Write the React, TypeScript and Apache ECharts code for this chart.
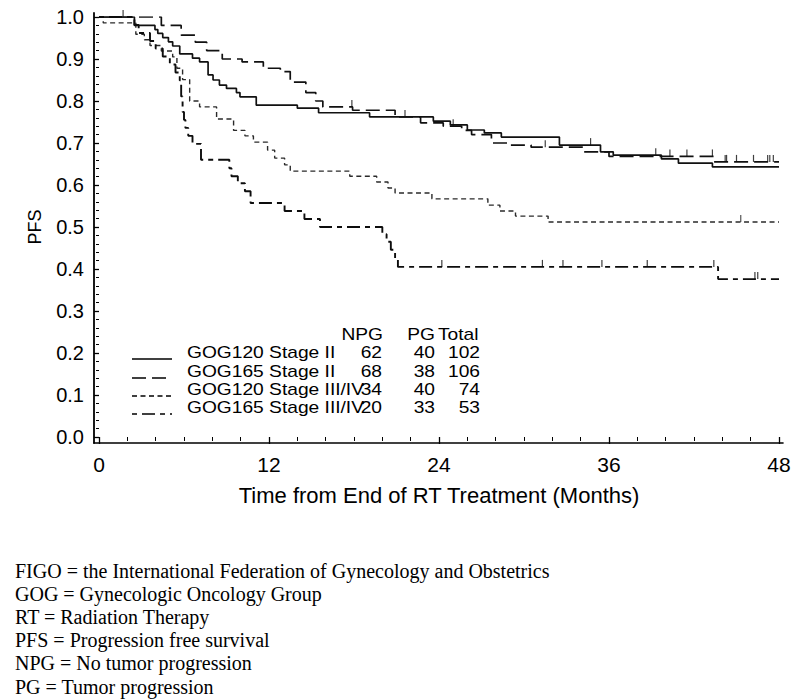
import React, { useEffect, useRef } from 'react';
import * as echarts from 'echarts';

// ---------- data ----------
const seriesNames = ['GOG120 Stage II', 'GOG165 Stage II', 'GOG120 Stage III/IV', 'GOG165 Stage III/IV'];
const npgCounts = [62, 68, 34, 20];
const pgCounts = [40, 38, 40, 33];
const totalCounts = [102, 106, 74, 53];
const xTicks = [0, 12, 24, 36, 48];

// step points: [month, PFS after event]
const gog120StageII: [number, number][] = [
  [0, 1.0], [2.5, 0.98], [3.95, 0.97], [4.15, 0.961], [4.5, 0.951], [4.9, 0.941], [5.2, 0.931],
  [5.7, 0.912], [6.6, 0.902], [7.1, 0.893], [7.7, 0.862], [8.05, 0.85], [8.5, 0.838], [9.0, 0.83],
  [9.7, 0.82], [9.95, 0.81], [11.1, 0.79], [14.0, 0.783], [15.5, 0.772], [19.1, 0.762], [23.6, 0.752],
  [24.8, 0.743], [26.0, 0.731], [27.2, 0.724], [28.4, 0.714], [32.5, 0.695], [35.4, 0.679],
  [36.3, 0.671], [39.7, 0.662], [40.9, 0.652], [43.3, 0.643], [48, 0.643],
];
const gog165StageII: [number, number][] = [
  [0, 1.0], [4.4, 0.98], [5.8, 0.957], [6.8, 0.94], [7.6, 0.92], [8.7, 0.9], [10.1, 0.893],
  [11.6, 0.878], [12.8, 0.87], [13.5, 0.845], [14.6, 0.82], [15.3, 0.8], [15.8, 0.786], [17.9, 0.778],
  [20.9, 0.762], [22.7, 0.748], [24.3, 0.74], [25.6, 0.73], [26.3, 0.72], [27.7, 0.7], [29.0, 0.695],
  [30.5, 0.69], [34.2, 0.679], [36.0, 0.668], [43.4, 0.655], [48, 0.655],
];
const gog120StageIIIIV: [number, number][] = [
  [0, 1.0], [0.3, 0.986], [2.6, 0.959], [3.2, 0.946], [3.6, 0.932], [4.4, 0.919], [5.2, 0.905],
  [5.5, 0.878], [5.9, 0.851], [6.4, 0.8], [7.1, 0.786], [8.3, 0.757], [9.5, 0.73], [10.3, 0.717],
  [10.9, 0.702], [11.9, 0.683], [12.4, 0.664], [13.1, 0.648], [13.5, 0.633], [17.7, 0.621],
  [19.6, 0.607], [20.4, 0.593], [20.9, 0.581], [23.5, 0.567], [27.45, 0.552], [28.3, 0.538],
  [29.4, 0.526], [31.7, 0.512], [48, 0.512],
];
const gog165StageIIIIV: [number, number][] = [
  [0, 1.0], [2.5, 0.981], [2.8, 0.962], [3.6, 0.943], [4.0, 0.925], [4.5, 0.906], [5.0, 0.887],
  [5.4, 0.868], [5.7, 0.849], [5.8, 0.811], [5.9, 0.774], [6.0, 0.755], [6.1, 0.736], [6.3, 0.717],
  [6.6, 0.698], [7.2, 0.66], [9.2, 0.64], [9.35, 0.621], [9.8, 0.604], [10.3, 0.585], [10.7, 0.557],
  [13.1, 0.538], [14.5, 0.519], [15.6, 0.5], [20.0, 0.483], [20.3, 0.465], [20.6, 0.446],
  [20.9, 0.425], [21.1, 0.405], [43.7, 0.376], [48, 0.376],
];

// censored observations
const censor120II: [number, number][] = [[1.7, 1.0], [21.6, 0.762], [34.7, 0.695], [39.3, 0.671]];
const censor165II: [number, number][] = [
  [17.85, 0.786], [25.0, 0.74], [31.5, 0.69], [40.3, 0.668], [41.5, 0.668], [43.3, 0.668],
  [44.2, 0.655], [44.3, 0.655], [45.0, 0.655], [46.2, 0.655], [47.2, 0.655], [47.35, 0.655], [47.6, 0.655],
];
const censor120III: [number, number][] = [[45.3, 0.512]];
const censor165III: [number, number][] = [
  [24.2, 0.405], [31.3, 0.405], [32.75, 0.405], [35.5, 0.405], [38.7, 0.405], [43.4, 0.405],
  [46.3, 0.376], [46.5, 0.376],
];

const footnotes = [
  'FIGO = the International Federation of Gynecology and Obstetrics',
  'GOG = Gynecologic Oncology Group',
  'RT = Radiation Therapy',
  'PFS = Progression free survival',
  'NPG = No tumor progression',
  'PG = Tumor progression',
];

// ---------- styles ----------
const dashes: (number[] | 'solid')[] = ['solid', [14, 6], [5, 3.5], [5, 5, 13, 5]];
const colors = ['#111111', '#111111', '#2a2a2a', '#0d0d0d'];
const widths = [1.7, 1.7, 1.4, 1.9];
const SANS = 'Liberation Sans';
const SERIF = 'Liberation Serif';

export default function App() {
  const ref = useRef<HTMLDivElement>(null);
  useEffect(() => {
    document.body.style.margin = '0';
    if (!ref.current) return;
    const chart = echarts.init(ref.current, null, { renderer: 'svg' });

    const curves = [gog120StageII, gog165StageII, gog120StageIIIIV, gog165StageIIIIV];
    const censors = [censor120II, censor165II, censor120III, censor165III];

    const lineSeries = curves.map((d, i) => ({
      name: seriesNames[i],
      type: 'line',
      step: 'end',
      data: d,
      showSymbol: false,
      symbol: 'none',
      xAxisIndex: 0,
      yAxisIndex: 0,
      lineStyle: { color: colors[i], width: widths[i], type: dashes[i] },
      z: 3,
    }));
    const censorSeries = censors.map((d, i) => ({
      name: seriesNames[i] + ' censored',
      type: 'scatter',
      data: d,
      symbol: 'rect',
      symbolSize: [1.2, 7],
      symbolOffset: [0, -3.5],
      itemStyle: { color: colors[i] },
      xAxisIndex: 0,
      yAxisIndex: 0,
      z: 4,
    }));

    const rowY = [353, 372, 390, 408];
    const headerY = 335;
    const sx = 1.2;
    const legendText = (text: string, x: number, y: number, align: string) => ({
      type: 'text',
      x,
      y,
      scaleX: sx,
      style: {
        text,
        x: 0,
        y: 0,
        fill: '#000',
        fontSize: 16,
        fontFamily: SANS,
        align,
        textAlign: align,
        verticalAlign: 'middle',
        textVerticalAlign: 'middle',
      },
    });

    const graphics: any[] = [];
    graphics.push(legendText('NPG', 383, headerY, 'right'));
    graphics.push(legendText('PG', 435, headerY, 'right'));
    graphics.push(legendText('Total', 438, headerY, 'left'));
    seriesNames.forEach((n, i) => {
      const d = dashes[i];
      graphics.push({
        type: 'line',
        shape: { x1: 132, y1: rowY[i] + 6, x2: 172, y2: rowY[i] + 6 },
        style: { stroke: '#000', lineWidth: 1.7, lineDash: d === 'solid' ? null : d },
      });
      graphics.push(legendText(n, 187, rowY[i], 'left'));
      graphics.push(legendText(String(npgCounts[i]), 382, rowY[i], 'right'));
      graphics.push(legendText(String(pgCounts[i]), 435, rowY[i], 'right'));
      graphics.push(legendText(String(totalCounts[i]), 480, rowY[i], 'right'));
    });
    footnotes.forEach((t, i) => {
      graphics.push({
        type: 'text',
        x: 15,
        y: 571 + i * 23.1,
        style: {
          text: t,
          x: 0,
          y: 0,
          fill: '#000',
          fontSize: 20,
          fontFamily: SERIF,
          align: 'left',
          textAlign: 'left',
          verticalAlign: 'middle',
          textVerticalAlign: 'middle',
        },
      });
    });

    chart.setOption({
      animation: false,
      backgroundColor: '#fff',
      grid: [
        { left: 99, right: 21, top: 17, bottom: 263 },
        { left: 94, right: 17, top: 13, bottom: 257 },
      ],
      xAxis: [
        {
          type: 'value',
          gridIndex: 0,
          min: 0,
          max: 48,
          interval: 12,
          offset: 6,
          name: 'Time from End of RT Treatment (Months)',
          nameLocation: 'middle',
          nameGap: 41,
          nameTextStyle: { fontSize: 22, fontFamily: SANS, color: '#000' },
          axisLine: { show: false },
          axisTick: { show: true, inside: false, length: 7, lineStyle: { color: '#000', width: 1.3 } },
          minorTick: { show: true, splitNumber: 6, length: 4, lineStyle: { color: '#000', width: 1 } },
          axisLabel: {
            show: true,
            margin: 11,
            fontSize: 21,
            fontFamily: SANS,
            color: '#000',
            customValues: xTicks,
          },
          splitLine: { show: false },
          minorSplitLine: { show: false },
        },
        {
          type: 'value',
          gridIndex: 1,
          min: 0,
          max: 1,
          axisLine: { show: true, lineStyle: { color: '#000', width: 1.6 } },
          axisTick: { show: false },
          axisLabel: { show: false },
          splitLine: { show: false },
        },
      ],
      yAxis: [
        {
          type: 'value',
          gridIndex: 0,
          min: 0,
          max: 1,
          interval: 0.1,
          offset: 5,
          name: 'PFS',
          nameLocation: 'middle',
          nameGap: 50,
          nameTextStyle: { fontSize: 18, fontFamily: SANS, color: '#000' },
          axisLine: { show: false },
          axisTick: { show: true, inside: false, length: 5, lineStyle: { color: '#000', width: 1.3 } },
          minorTick: { show: true, splitNumber: 5, length: 3, lineStyle: { color: '#000', width: 1 } },
          axisLabel: {
            show: true,
            margin: 10,
            fontSize: 20,
            fontFamily: SANS,
            color: '#000',
            formatter: (v: number) => v.toFixed(1),
          },
          splitLine: { show: false },
          minorSplitLine: { show: false },
        },
        {
          type: 'value',
          gridIndex: 1,
          min: 0,
          max: 1,
          axisLine: { show: true, lineStyle: { color: '#000', width: 1.8 } },
          axisTick: { show: false },
          axisLabel: { show: false },
          splitLine: { show: false },
        },
      ],
      series: [...lineSeries, ...censorSeries],
      graphic: graphics,
    });
    return () => chart.dispose();
  }, []);
  return <div ref={ref} style={{ width: 800, height: 700 }} />;
}
